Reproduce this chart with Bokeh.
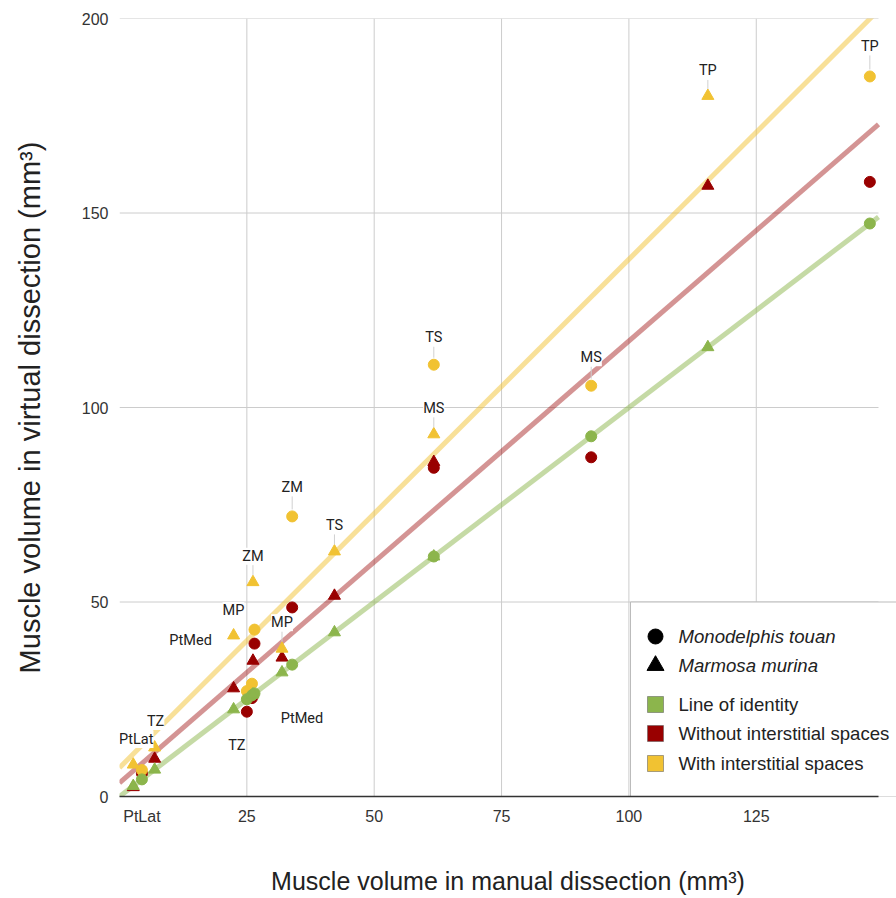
import numpy as np
from bokeh.plotting import figure
from bokeh.models import Range1d, FixedTicker, ColumnDataSource, LabelSet, Label
from bokeh.embed import file_html
from bokeh.resources import INLINE
from bokeh.core.properties import value

# ---------------- data ----------------
muscles = ["PtLat", "TZ", "PtMed", "MP", "ZM", "TS", "MS", "TP"]

# Monodelphis touan (circles)
mt_manual = [4.4, 25.0, 26.0, 26.5, 33.9, 61.7, 92.6, 147.3]
mt_without = [5.9, 21.8, 25.3, 39.3, 48.6, 84.5, 87.2, 158.0]
mt_with = [6.8, 27.1, 29.0, 42.9, 72.0, 111.0, 105.6, 185.1]

# Marmosa murina (triangles)
mm_manual = [2.7, 6.9, 22.4, 31.9, 26.2, 42.2, 61.7, 115.5]
mm_without = [2.4, 9.7, 27.8, 35.7, 34.9, 51.6, 86.0, 157.0]
mm_with = [8.2, 12.6, 41.4, 38.0, 55.1, 63.0, 93.1, 180.1]

# trend lines
trend_names = ["Line of identity", "Without interstitial spaces", "With interstitial spaces"]
trend_slope = [1.0, 1.136, 1.307]
trend_intercept = [0.0, 3.5, 7.4]
trend_x_end = 149.0

x_ticks = [25, 50, 75, 100, 125]
y_ticks = [0, 50, 100, 150, 200]
species = ["Monodelphis touan", "Marmosa murina"]

# ---------------- styles ----------------
C_GREEN = "#8cb54c"
C_RED = "#990000"
C_YELLOW = "#f1c232"
trend_colors = [C_GREEN, C_RED, C_YELLOW]
trend_alpha = [0.5, 0.42, 0.5]

# label placement (pixel offsets from the labelled "with" point; +dy = up)
# the PtLat label of M. touan sits under the axis and is written as a tick label
mt_lab_dx = [0, -10, 50, -21, 0, 0, 0, 0]
mt_lab_dy = [0, -54, -35, 19, 29, 27, 28, 30]
mt_leader = [0, 0, 0, 0, 1, 1, 1, 1]
mt_show = [0, 1, 1, 1, 1, 1, 1, 1]
mm_lab_dx = [3, 1, -43, 0, 0, 0, 0, 0]
mm_lab_dy = [25, 26, -5, 26, 26, 26, 26, 25]
mm_leader = [0, 0, 0, 1, 1, 1, 1, 1]
mm_show = [1, 1, 1, 1, 1, 1, 1, 1]

# ---------------- geometry ----------------
W, H = 896, 898
BL, BR, BT, BB = 119, 0, 18, 102
FW = W - BL - BR
FH = H - BT - BB
PPX = 5.094
XMAX, YMAX = FW / PPX, 200.0
PPY = FH / YMAX
GRID_XEND = 149.0

p = figure(width=W, height=H, output_backend="svg", toolbar_location=None,
           x_range=Range1d(0, XMAX), y_range=Range1d(0, YMAX),
           min_border_left=BL, min_border_right=BR, min_border_top=BT, min_border_bottom=BB)
p.outline_line_color = None
p.background_fill_color = "white"
p.border_fill_color = "white"
p.grid.visible = False

# axes
p.xaxis.ticker = FixedTicker(ticks=[mt_manual[0]] + x_ticks)
p.xaxis.major_label_overrides = {mt_manual[0]: muscles[0]}
p.yaxis.ticker = FixedTicker(ticks=y_ticks)
for ax in (p.xaxis, p.yaxis):
    ax.major_tick_out = 0
    ax.major_tick_in = 0
    ax.minor_tick_out = 0
    ax.minor_tick_in = 0
    ax.major_label_text_font = "Liberation Sans"
    ax.major_label_text_font_size = "16px"
    ax.major_label_text_color = "#333333"
    ax.axis_label_text_font = "Liberation Sans"
    ax.axis_label_text_font_style = "normal"
    ax.axis_label_text_color = "#222222"
    ax.major_label_standoff = 11
p.xaxis.axis_label_text_font_size = "25px"
p.yaxis.axis_label_text_font_size = "29px"
p.xaxis.axis_label = "Muscle volume in manual dissection (mm³)"
p.yaxis.axis_label = "Muscle volume in virtual dissection (mm³)"
p.xaxis.axis_label_standoff = 39
p.yaxis.axis_label_standoff = 33
p.xaxis.axis_line_color = "#333333"
p.xaxis.axis_line_width = 1.5
p.xaxis.bounds = (0, GRID_XEND)
p.yaxis.axis_line_color = None

# gridlines (ending at the right edge of the data area)
p.segment(x0=x_ticks, y0=[0] * len(x_ticks), x1=x_ticks, y1=[YMAX] * len(x_ticks),
          line_color="#cccccc", line_width=1, level="underlay")
gy = y_ticks[1:]
p.segment(x0=[0] * len(gy), y0=gy, x1=[GRID_XEND] * len(gy), y1=gy,
          line_color="#cccccc", line_width=1, level="underlay")

# trend lines
for name, m, b, c, a in zip(trend_names, trend_slope, trend_intercept, trend_colors, trend_alpha):
    xs = np.array([0.0, trend_x_end])
    p.line(xs, b + m * xs, line_color=c, line_alpha=a, line_width=5)

# points
p.scatter(mt_manual, mt_without, marker="circle", size=11, fill_color=C_RED, line_color=C_RED)
p.scatter(mm_manual, mm_without, marker="triangle", size=12, fill_color=C_RED, line_color=C_RED)
p.scatter(mt_manual, mt_with, marker="circle", size=11, fill_color=C_YELLOW, line_color=C_YELLOW)
p.scatter(mm_manual, mm_with, marker="triangle", size=12, fill_color=C_YELLOW, line_color=C_YELLOW)
p.scatter(mt_manual, mt_manual, marker="circle", size=11, fill_color=C_GREEN, line_color=C_GREEN)
p.scatter(mm_manual, mm_manual, marker="triangle", size=12, fill_color=C_GREEN, line_color=C_GREEN)

# data labels
lx, ly, lt, ldx, ldy = [], [], [], [], []
sx0, sy0, sy1 = [], [], []
for man, wth, dxs, dys, lds, shows in ((mt_manual, mt_with, mt_lab_dx, mt_lab_dy, mt_leader, mt_show),
                                      (mm_manual, mm_with, mm_lab_dx, mm_lab_dy, mm_leader, mm_show)):
    for i in range(len(muscles)):
        if not shows[i]:
            continue
        lx.append(man[i]); ly.append(wth[i]); lt.append(muscles[i])
        ldx.append(dxs[i]); ldy.append(dys[i])
        if lds[i]:
            sx0.append(man[i])
            sy0.append(wth[i] + 7 / PPY)
            sy1.append(wth[i] + (dys[i] - 9) / PPY)
p.segment(x0=sx0, y0=sy0, x1=sx0, y1=sy1, line_color="#d0d0d0", line_width=1)

src = ColumnDataSource(dict(x=lx, y=ly, t=lt, dx=ldx, dy=ldy))
labels = LabelSet(x="x", y="y", text="t", x_offset="dx", y_offset="dy", source=src,
                  text_font=value("Roboto"), text_font_size=value("14.5px"),
                  text_color="#222222", text_align="center", text_baseline="middle",
                  background_fill_color="white", background_fill_alpha=1.0)
p.add_layout(labels)

# ---------------- legend (drawn manually) ----------------
def dx_ref(px):
    return (px - BL) / PPX

def dy_ref(py):
    return (BT + FH - py) / PPY

p.quad(left=[dx_ref(630)], right=[XMAX + 20], bottom=[0], top=[50],
       fill_color="white", line_color="#bbbbbb", line_width=1)
leg_y = [dy_ref(v) for v in (636, 665, 704, 733, 763)]
leg_mx = dx_ref(655)
leg_tx = dx_ref(678)
p.scatter([leg_mx], [leg_y[0]], marker="circle", size=15, fill_color="black", line_color="black")
p.scatter([leg_mx], [leg_y[1]], marker="triangle", size=17, fill_color="black", line_color="black")
for yy, c in zip(leg_y[2:], trend_colors):
    p.scatter([leg_mx], [yy], marker="square", size=16, fill_color=c, line_color="#555555",
              line_alpha=0.5)
for i, t in enumerate(species + trend_names):
    p.add_layout(Label(x=leg_tx, y=leg_y[i], text=t, text_font="Liberation Sans",
                       text_font_size="18.6px", text_color="#222222",
                       text_font_style="italic" if i < 2 else "normal",
                       text_baseline="middle", text_align="left"))

open("out.html", "w").write(file_html(p, INLINE))
